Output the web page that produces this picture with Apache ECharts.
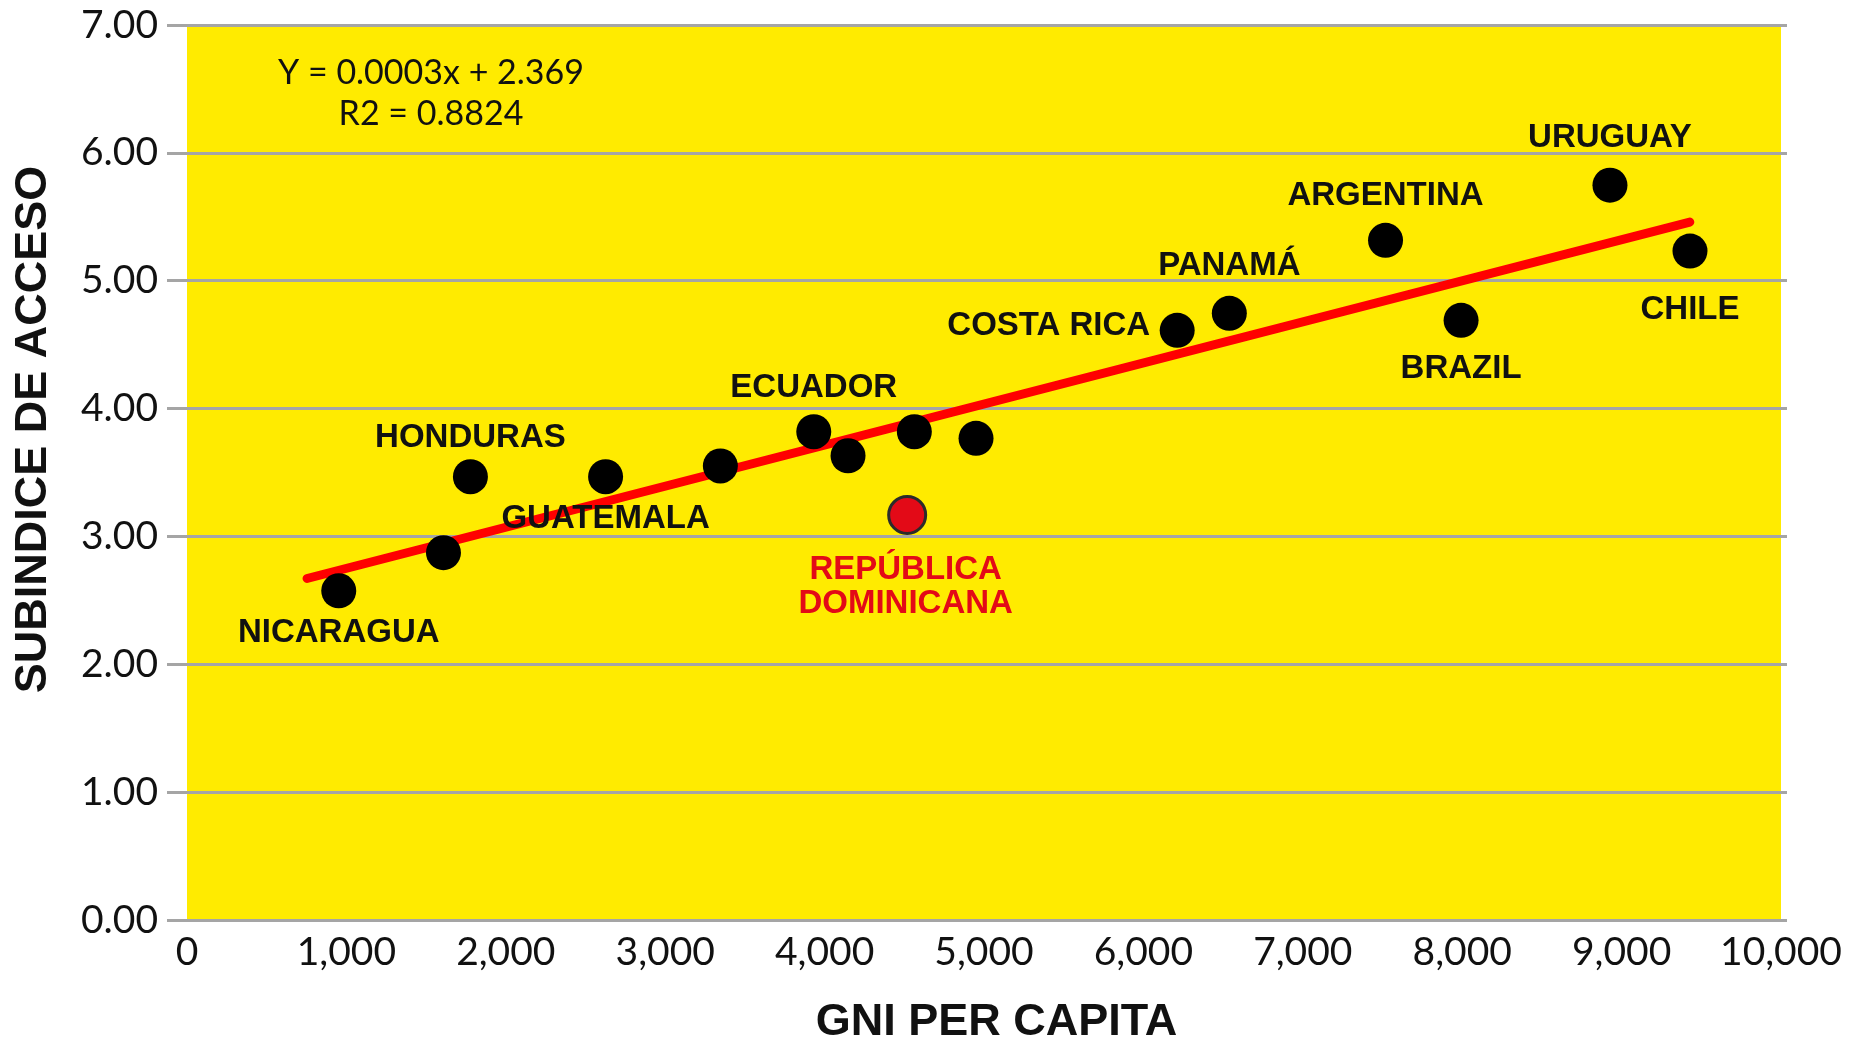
<!DOCTYPE html>
<html>
<head>
<meta charset="utf-8">
<script src="https://cdn.jsdelivr.net/npm/echarts@6/dist/echarts.min.js"></script>
<style>
html,body{margin:0;padding:0;background:#fff;}
#chart{width:1849px;height:1041px;}
</style>
</head>
<body>
<div id="chart"></div>
<script>
// ---- data ----
const countries = ['NICARAGUA', '', 'HONDURAS', 'GUATEMALA', '', 'ECUADOR', '', '', '', 'REPÚBLICA\nDOMINICANA', 'COSTA RICA', 'PANAMÁ', 'ARGENTINA', 'BRAZIL', 'URUGUAY', 'CHILE'];
const gniPerCapita = [952, 1609, 1778, 2626, 3346, 3932, 4147, 4563, 4950, 4518, 6212, 6539, 7519, 7993, 8927, 9429];
const subindiceAcceso = [2.575, 2.873, 3.467, 3.467, 3.551, 3.819, 3.631, 3.819, 3.767, 3.168, 4.612, 4.745, 5.316, 4.690, 5.747, 5.232];
const trendX = [753, 9428];
const trendY = [2.671, 5.459];
const highlighted = 'REPÚBLICA\nDOMINICANA';
const equationText = 'Y = 0.0003x + 2.369\nR2 = 0.8824';
const xTitle = 'GNI PER CAPITA';
const yTitle = 'SUBINDICE DE ACCESO';

// ---- label placement (style, not data): offset of label centre from dot centre ----
const labelOffsets = {
  'NICARAGUA': [0, 42],
  'HONDURAS': [0, -39],
  'GUATEMALA': [0, 42],
  'ECUADOR': [0, -44],
  'REPÚBLICA\nDOMINICANA': [0, 73],
  'COSTA RICA': [-27, -4],
  'PANAMÁ': [0, -47],
  'ARGENTINA': [0, -44],
  'BRAZIL': [0, 49],
  'URUGUAY': [0, -47],
  'CHILE': [0, 59]
};

const GRID_GRAY = '#a5a5a5';
const YELLOW = '#FFEB00';
const RED = '#E30A17';
const tickFont = 'Lato, "Open Sans", sans-serif';
const boldFont = '"Liberation Sans", Arial, sans-serif';

const scatterData = gniPerCapita.map((x, i) => {
  const name = countries[i];
  const size = name === highlighted ? 37 : 35;
  const half = size / 2;
  const item = { name: name, value: [x, subindiceAcceso[i]], symbolSize: size };
  if (name === highlighted) {
    item.itemStyle = { color: RED, borderColor: '#2b2b2b', borderWidth: 3 };
  }
  const off = labelOffsets[name];
  if (name && off) {
    item.label = {
      show: true,
      position: [half + off[0], half + off[1]],
      align: name === 'COSTA RICA' ? 'right' : 'center',
      verticalAlign: 'middle'
    };
    if (name === highlighted) {
      item.label.color = RED;
      item.label.lineHeight = 34;
    }
  } else {
    item.label = { show: false };
  }
  return item;
});

const chart = echarts.init(document.getElementById('chart'), null, { renderer: 'canvas' });
chart.setOption({
  backgroundColor: '#ffffff',
  animation: false,
  grid: {
    left: 187, right: 68, top: 25, bottom: 121,
    outerBoundsMode: 'none', containLabel: false,
    show: true, backgroundColor: YELLOW, borderWidth: 0
  },
  xAxis: {
    type: 'value', min: 0, max: 10000, interval: 1000,
    name: xTitle, nameLocation: 'middle', nameGap: 80,
    nameTextStyle: { fontFamily: boldFont, fontWeight: 'bold', fontSize: 45, color: '#111', padding: [0, 0, 0, 25] },
    axisLine: { show: true, lineStyle: { color: GRID_GRAY, width: 3 } },
    axisTick: { show: false },
    splitLine: { show: false },
    axisLabel: {
      margin: 13, fontFamily: tickFont, fontWeight: 'normal', fontSize: 39, color: '#111',
      formatter: v => v.toLocaleString('en-US')
    }
  },
  yAxis: [{
    type: 'value', min: 0, max: 7, interval: 1,
    name: yTitle, nameLocation: 'middle', nameGap: 131, nameRotate: 90,
    nameTextStyle: { fontFamily: boldFont, fontWeight: 'bold', fontSize: 45, color: '#111', padding: [0, 0, 0, 86] },
    axisLine: { show: false },
    axisTick: { show: true, length: 20, lineStyle: { color: GRID_GRAY, width: 3 } },
    splitLine: { show: true, lineStyle: { color: GRID_GRAY, width: 3 } },
    axisLabel: {
      margin: 29, fontFamily: tickFont, fontWeight: 'normal', fontSize: 39, color: '#111',
      formatter: v => v.toFixed(2)
    }
  }, {
    type: 'value', min: 0, max: 7, interval: 1, position: 'right',
    axisLine: { show: false },
    axisTick: { show: true, length: 6, lineStyle: { color: GRID_GRAY, width: 3 } },
    splitLine: { show: false },
    axisLabel: { show: false }
  }],
  graphic: [{
    type: 'text', x: 431, y: 53,
    style: {
      text: equationText, textAlign: 'center', textVerticalAlign: 'top',
      fontFamily: tickFont, fontWeight: 'normal', fontSize: 34, lineHeight: 41, fill: '#111'
    }
  }],
  series: [{
    type: 'line', data: trendX.map((x, i) => [x, trendY[i]]),
    symbol: 'none', silent: true, z: 2,
    lineStyle: { color: '#FF0000', width: 9, cap: 'round' }
  }, {
    type: 'scatter', data: scatterData, symbol: 'circle', z: 3,
    itemStyle: { color: '#000000', opacity: 1 },
    label: {
      formatter: p => p.name, fontFamily: boldFont, fontWeight: 'bold', fontSize: 33,
      color: '#111'
    }
  }]
});
</script>
</body>
</html>
